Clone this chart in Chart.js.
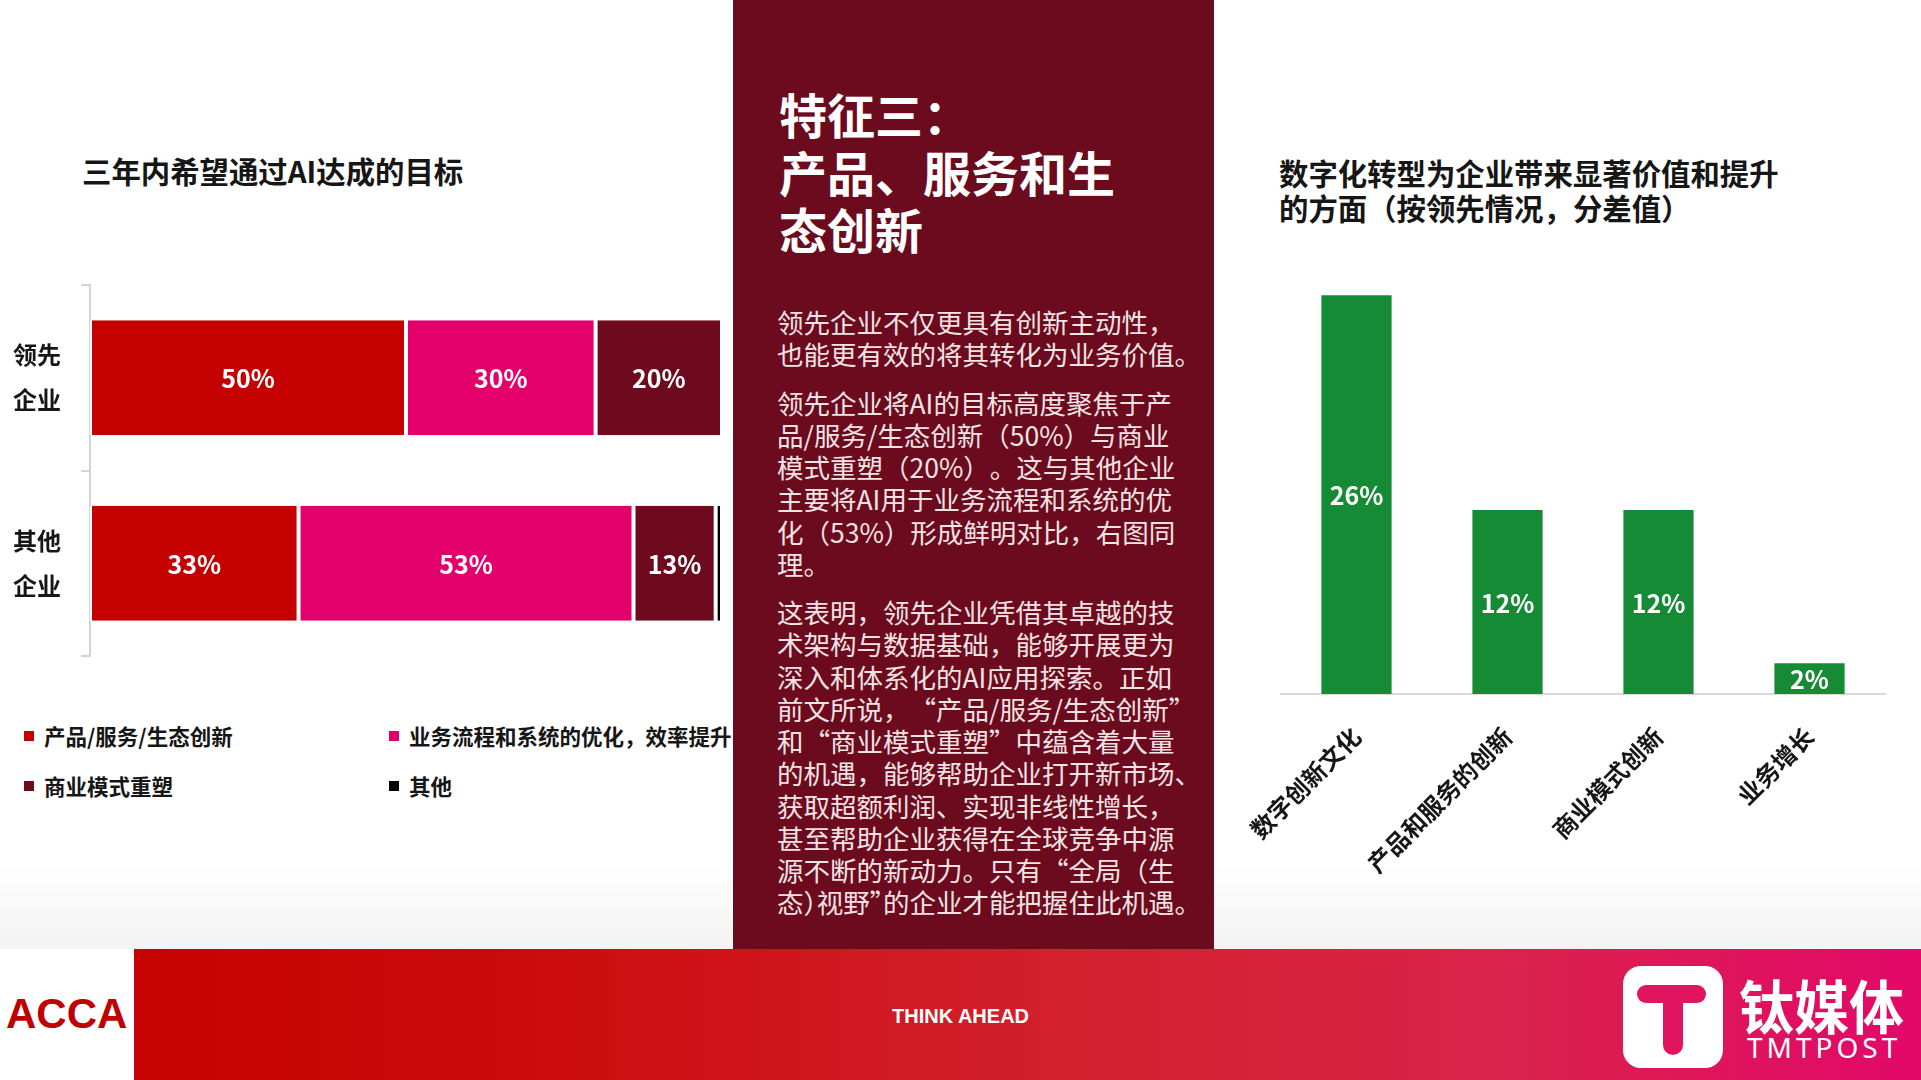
<!DOCTYPE html>
<html lang="zh-CN">
<head>
<meta charset="utf-8">
<title>特征三：产品、服务和生态创新</title>
<script src="https://cdn.jsdelivr.net/npm/chart.js@4.4.1/dist/chart.umd.min.js"></script>
<style>
    body {
        margin: 0;
        width: 1921px;
        height: 1080px;
        overflow: hidden;
        position: relative;
        font-family: "Noto Sans CJK SC", "Noto Sans", sans-serif;
        background: linear-gradient(180deg, #ffffff 0px, #ffffff 860px, #f3f3f3 949px);
        color: #161616;
    }
    .abs { position: absolute; }
    .chart-title {
        font-size: 29.4px;
        font-weight: bold;
        line-height: 35px;
        white-space: nowrap;
    }
    #panel {
        left: 733px;
        top: 0;
        width: 481px;
        height: 949px;
        background: #6c0b1d;
    }
    #panel-title {
        left: 46px;
        top: 85px;
        color: #fff;
        font-size: 48px;
        font-weight: bold;
        line-height: 57.5px;
        white-space: nowrap;
    }
    #panel-body {
        left: 44px;
        top: 306px;
        color: #f4e3e5;
        font-size: 26.5px;
        line-height: 32.25px;
        white-space: nowrap;
        text-spacing-trim: space-all;
    }
    #panel-body p { margin: 0 0 16px 0; }
    .halt { font-feature-settings: "halt"; }
    .legend-item {
        font-size: 21.5px;
        font-weight: bold;
        line-height: 30px;
        white-space: nowrap;
    }
    .legend-item span.box {
        position: absolute;
        left: -20px;
        top: 10px;
        width: 10px;
        height: 10px;
    }
    #banner {
        left: 0;
        top: 949px;
        width: 1921px;
        height: 131px;
        background: linear-gradient(90deg, #c60000 0%, #c90a0a 25%, #d3202c 55%, #d9234a 78%, #e3086a 100%);
    }
    #banner-white {
        left: 0;
        top: 0;
        width: 134px;
        height: 131px;
        background: #fff;
    }
</style>
</head>
<body>

<div class="abs chart-title" style="left:82px; top:153px;">三年内希望通过AI达成的目标</div>
<div class="abs" style="left:0; top:275px; width:730px; height:391px;">
    <canvas id="goalChart"></canvas>
</div>
<div id="goalLegend"></div>

<div id="panel" class="abs">
    <div id="panel-title" class="abs">特征三：<br>产品、服务和生<br>态创新</div>
    <div id="panel-body" class="abs">
        <p>领先企业不仅更具有创新主动性，<br>也能更有效的将其转化为业务价值。</p>
        <p>领先企业将AI的目标高度聚焦于产<br>品/服务/生态创新（50%）与商业<br>模式重塑（20%）。这与其他企业<br>主要将AI用于业务流程和系统的优<br>化（53%）形成鲜明对比，右图同<br>理。</p>
        <p>这表明，领先企业凭借其卓越的技<br>术架构与数据基础，能够开展更为<br>深入和体系化的AI应用探索。正如<br>前文所说，“产品/服务/生态创新”<br>和“商业模式重塑”中蕴含着大量<br>的机遇，能够帮助企业打开新市场、<br>获取超额利润、实现非线性增长，<br>甚至帮助企业获得在全球竞争中源<br>源不断的新动力。只有“全局（生<br>态<span class="halt">）</span>视野<span class="halt">”</span>的企业才能把握住此机遇。</p>
    </div>
</div>

<div class="abs chart-title" style="left:1279px; top:155px;">数字化转型为企业带来显著价值和提升<br>的方面（按领先情况，分差值）</div>
<div class="abs" style="left:1131px; top:224px; width:790px; height:670px;">
    <canvas id="valueChart"></canvas>
</div>

<div id="banner" class="abs">
    <div id="banner-white" class="abs"></div>
    <div class="abs" style="left:6px; top:44px; font-family:'Liberation Sans', Arial, sans-serif; font-weight:bold; font-size:42px; line-height:42px; color:#c00000;">ACCA</div>
    <div class="abs" style="left:0; width:1921px; top:57px; text-align:center; font-family:'Liberation Sans', Arial, sans-serif; font-weight:bold; font-size:20px; line-height:20px; color:#fff;">THINK AHEAD</div>
    <div class="abs" style="left:1623px; top:17px; width:100px; height:102px; border-radius:18px; background:#fff;">
        <div class="abs" style="left:14px; top:19px; width:69px; height:18px; border-radius:9px; background:#e0145f;"></div>
        <div class="abs" style="left:40px; top:19px; width:20px; height:70px; border-radius:0 0 10px 10px; background:#e0145f;"></div>
    </div>
    <div class="abs" style="left:1739px; top:26px; font-size:55px; font-weight:bold; line-height:55px; color:#fff; white-space:nowrap; transform:scaleY(1.05); transform-origin:top left;">钛媒体</div>
    <div class="abs" style="left:1747px; top:84px; font-family:'Noto Sans', sans-serif; font-size:28px; line-height:28px; letter-spacing:4px; color:#fff;">TMTPOST</div>
</div>

<script>
// left chart data
const goalCategories = [['领先', '企业'], ['其他', '企业']];
const goalSeries = ['产品/服务/生态创新', '业务流程和系统的优化，效率提升', '商业模式重塑', '其他'];
const productInnovation = [50, 33];
const processOptimization = [30, 53];
const businessModel = [20, 13];
const otherGoals = [0, 1];

// right chart data
const valueCategories = ['数字创新文化', '产品和服务的创新', '商业模式创新', '业务增长'];
const valueGaps = [26, 12, 12, 2];

const goalColors = ['#c40000', '#e4006a', '#6d0a1e', '#000000'];
const valueColor = '#158b36';

Chart.defaults.font.family = '"Noto Sans CJK SC", "Noto Sans", sans-serif';
Chart.defaults.color = '#161616';

// white % labels in the middle of each bar
const barLabels = {
    id: 'barLabels',
    afterDatasetsDraw(chart, args, opts) {
        const ctx = chart.ctx;
        ctx.save();
        ctx.fillStyle = '#fff';
        ctx.font = 'bold 25px "Noto Sans CJK SC", "Noto Sans", sans-serif';
        ctx.textAlign = 'center';
        ctx.textBaseline = 'middle';
        chart.data.datasets.forEach((ds, i) => {
            chart.getDatasetMeta(i).data.forEach((bar, j) => {
                const v = ds.data[j];
                if (v < opts.min) return;
                const p = bar.getCenterPoint();
                ctx.fillText(v + '%', p.x, p.y + 1);
            });
        });
        ctx.restore();
    }
};

// FIRST CHART
const goalData = [productInnovation, processOptimization, businessModel, otherGoals];
const goalChart = new Chart(document.getElementById('goalChart'), {
    type: 'bar',
    data: {
        labels: goalCategories,
        datasets: goalData.map((d, i) => ({
            label: goalSeries[i],
            data: d,
            backgroundColor: goalColors[i],
            borderColor: '#ffffff',
            borderWidth: {left: 2, right: 2, top: 0, bottom: 0},
            borderSkipped: false,
            categoryPercentage: 1,
            barPercentage: 0.62
        }))
    },
    options: {
        indexAxis: 'y',
        responsive: true,
        maintainAspectRatio: false,
        animation: false,
        layout: {padding: {top: 10, right: 8, bottom: 10, left: 0}},
        plugins: {
            legend: {display: false},
            tooltip: {enabled: false},
            barLabels: {min: 5}
        },
        scales: {
            x: {stacked: true, display: false, min: 0, max: 100},
            y: {
                stacked: true,
                afterFit: (scale) => {
                    scale.width = 90;
                    scale.paddingTop = 0;
                    scale.paddingBottom = 0;
                },
                border: {display: true, color: '#d4d4d4', width: 2},
                grid: {drawOnChartArea: false, drawTicks: true, tickLength: 9, color: '#d4d4d4', lineWidth: 2},
                ticks: {
                    padding: 20,
                    color: '#161616',
                    font: {size: 24, weight: 'bold', lineHeight: 1.88}
                }
            }
        }
    },
    plugins: [barLabels]
});

// legend for the first chart
const legendPos = [[44, 721], [409, 721], [44, 771], [409, 771]];
const legendBox = document.getElementById('goalLegend');
goalSeries.forEach((name, i) => {
    const item = document.createElement('div');
    item.className = 'abs legend-item';
    item.style.left = legendPos[i][0] + 'px';
    item.style.top = legendPos[i][1] + 'px';
    item.innerHTML = '<span class="box" style="background:' + goalColors[i] + '"></span>' + name;
    legendBox.appendChild(item);
});

// SECOND CHART
const valueChart = new Chart(document.getElementById('valueChart'), {
    type: 'bar',
    data: {
        labels: valueCategories,
        datasets: [{
            label: '分差值',
            data: valueGaps,
            backgroundColor: valueColor,
            categoryPercentage: 1,
            barPercentage: 0.465
        }]
    },
    options: {
        responsive: true,
        maintainAspectRatio: false,
        animation: false,
        layout: {padding: {top: 10, right: 36, bottom: 0, left: 150}},
        plugins: {
            legend: {display: false},
            tooltip: {enabled: false},
            barLabels: {min: 0}
        },
        scales: {
            y: {display: false, min: 0, max: 30},
            x: {
                afterFit: (scale) => { scale.height = 200; },
                border: {display: true, color: '#d9d9d9', width: 2},
                grid: {display: false, drawTicks: false},
                ticks: {
                    padding: 28,
                    minRotation: 45,
                    maxRotation: 45,
                    color: '#161616',
                    font: {size: 24, weight: 'bold'}
                }
            }
        }
    },
    plugins: [barLabels]
});
</script>
</body>
</html>
